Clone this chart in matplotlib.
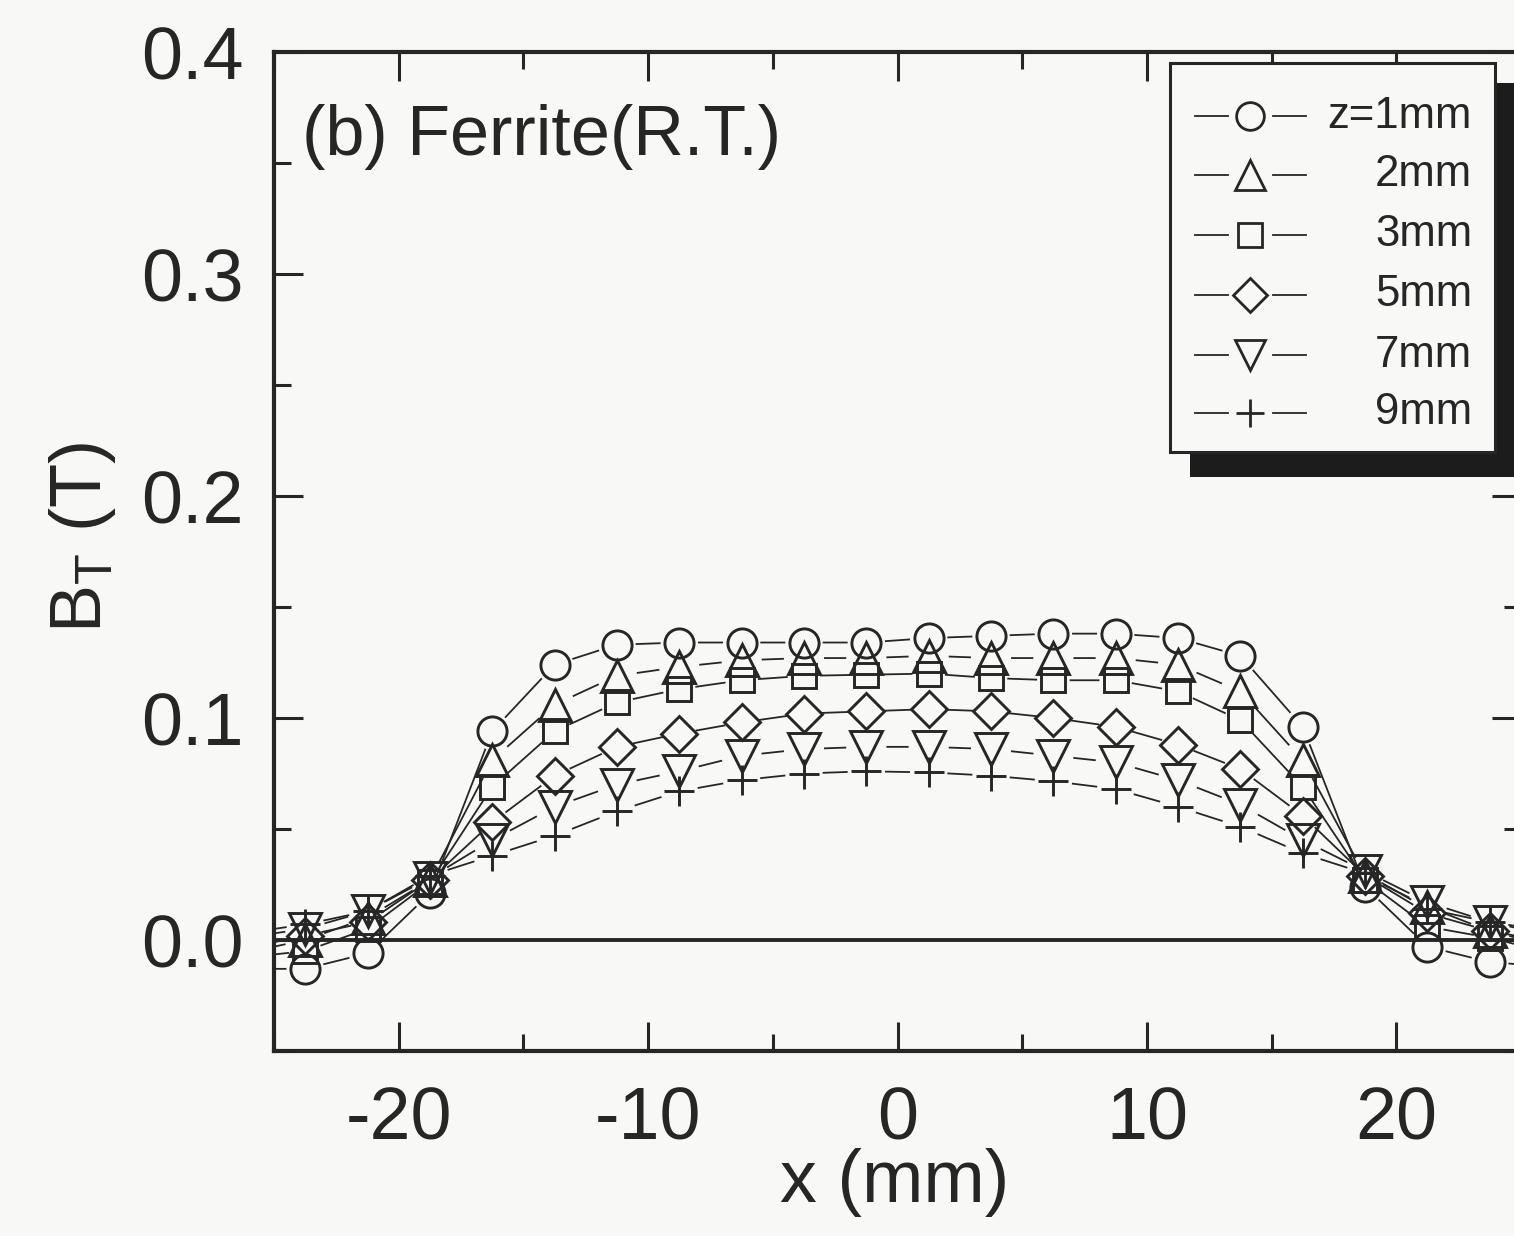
import numpy as np
import matplotlib
matplotlib.use('Agg')
import matplotlib.pyplot as plt
from matplotlib.patches import Rectangle
from matplotlib.lines import Line2D
from matplotlib.ticker import MultipleLocator

plt.rcParams['font.family'] = ['Liberation Sans', 'DejaVu Sans']
plt.rcParams['mathtext.fontset'] = 'custom'
plt.rcParams['mathtext.rm'] = 'Liberation Sans'
plt.rcParams['axes.unicode_minus'] = False

# transverse field B_T across the ferrite sample, one list per gap z
# (first/last points sit just outside the frame, only their lines show)
x_mm = [-26.25, -23.75, -21.25, -18.75, -16.25, -13.75, -11.25, -8.75, -6.25, -3.75,
        -1.25, 1.25, 3.75, 6.25, 8.75, 11.25, 13.75, 16.25, 18.75, 21.25,
        23.75, 26.25]
bt_z1 = [-0.013, -0.013, -0.006, 0.021, 0.094, 0.124, 0.133, 0.134, 0.134, 0.134,
         0.134, 0.136, 0.137, 0.138, 0.138, 0.136, 0.128, 0.096, 0.024, -0.003,
         -0.010, -0.012]
bt_z2 = [-0.006, 0.000, 0.010, 0.027, 0.081, 0.106, 0.119, 0.123, 0.126, 0.127,
         0.127, 0.128, 0.127, 0.127, 0.127, 0.124, 0.112, 0.081, 0.029, 0.015,
         0.004, -0.003]
bt_z3 = [-0.008, -0.005, 0.005, 0.026, 0.069, 0.094, 0.107, 0.113, 0.117, 0.119,
         0.1195, 0.120, 0.118, 0.117, 0.117, 0.112, 0.099, 0.069, 0.027, 0.006,
         0.001, -0.006]
bt_z5 = [-0.004, 0.002, 0.008, 0.027, 0.053, 0.074, 0.087, 0.093, 0.098, 0.102,
         0.103, 0.104, 0.103, 0.100, 0.096, 0.088, 0.077, 0.056, 0.029, 0.012,
         0.004, -0.001]
bt_z7 = [0.001, 0.005, 0.013, 0.028, 0.045, 0.060, 0.070, 0.076, 0.083, 0.086,
         0.087, 0.087, 0.086, 0.083, 0.080, 0.072, 0.061, 0.045, 0.031, 0.017,
         0.008, 0.002]
bt_z9 = [0.003, 0.007, 0.013, 0.029, 0.038, 0.047, 0.058, 0.067, 0.072, 0.075,
         0.076, 0.0755, 0.074, 0.0715, 0.068, 0.060, 0.051, 0.039, 0.030, 0.014,
         0.008, 0.004]
series = [bt_z1, bt_z2, bt_z3, bt_z5, bt_z7, bt_z9]
labels = ['z=1mm', '2mm', '3mm', '5mm', '7mm', '9mm']
markers = ['o', '^', 's', 'D', 'v', '+']
msizes = [21, 23, 17.5, 18, 23, 21]

W, H, DPI = 1514, 1236, 100
ink = '#262626'
bg = '#f8f8f7'

fig = plt.figure(figsize=(W / DPI, H / DPI), dpi=DPI, facecolor=bg)
ax = fig.add_axes([274 / W, 1 - 1051 / H, 1247 / W, 999 / H], facecolor=bg)
ax.set_xlim(-25, 25)
ax.set_ylim(-0.05, 0.4)


def gapped(xs, ys, gap):
    # Origin style: line pieces stop short of each symbol
    pts = ax.transData.transform(np.column_stack([xs, ys]))
    inv = ax.transData.inverted()
    sx, sy = [], []
    for p0, p1 in zip(pts[:-1], pts[1:]):
        d = p1 - p0
        L = np.hypot(*d)
        if L <= 2 * gap:
            continue
        u = d / L
        a, b = inv.transform([p0 + u * gap, p1 - u * gap])
        sx += [a[0], b[0], np.nan]
        sy += [a[1], b[1], np.nan]
    return sx, sy


ax.axhline(0, color=ink, lw=2.8, zorder=1)
for ys, mk, ms in zip(series, markers, msizes):
    gap = ms * DPI / 72 / 2 + 5
    sx, sy = gapped(x_mm, ys, gap)
    ax.plot(sx, sy, color=ink, lw=1.3, zorder=2)
    ax.plot(x_mm, ys, ls='none', marker=mk, ms=ms, mfc='none', mec=ink,
            mew=2.1, zorder=3)

for s in ax.spines.values():
    s.set_linewidth(3)
    s.set_color(ink)

ax.set_xticks([-20, -10, 0, 10, 20])
ax.xaxis.set_minor_locator(MultipleLocator(5))
ax.set_yticks([0.0, 0.1, 0.2, 0.3, 0.4])
ax.set_yticklabels(['0.0', '0.1', '0.2', '0.3', '0.4'])
ax.yaxis.set_minor_locator(MultipleLocator(0.05))
ax.tick_params(which='both', direction='in', top=True, right=True,
               width=2.2, color=ink, labelcolor=ink)
ax.tick_params(which='major', length=21, labelsize=53)
ax.tick_params(which='minor', length=12)
ax.tick_params(axis='x', pad=25)
ax.tick_params(axis='y', pad=22)

ax.set_xlabel('x (mm)', fontsize=53, color=ink)
ax.xaxis.set_label_coords(0.498, -0.097)
ax.xaxis.label.set_va('top')
ax.set_ylabel(r'$\mathrm{B}_\mathrm{T}$ (T)', fontsize=52, color=ink)
ax.yaxis.set_label_coords(-0.125, 0.514)

ax.text(0.0225, 0.897, '(b) Ferrite(R.T.)', transform=ax.transAxes,
        fontsize=50.5, va='baseline', color=ink)

# legend box with the heavy drop shadow, drawn in figure pixels
fx = lambda p: p / W
fy = lambda p: 1 - p / H
tf = fig.transFigure
fig.add_artist(Rectangle((fx(1190), fy(477)), 340 / W, 394 / H, transform=tf,
                         facecolor='#1c1c1c', edgecolor='none', zorder=5))
fig.add_artist(Rectangle((fx(1170), fy(452)), 325 / W, 389 / H, transform=tf,
                         facecolor=bg, edgecolor=ink, lw=2.2, zorder=6))
rows = [116, 175, 235, 295, 355, 413]
for row, mk, ms, lab in zip(rows, markers, msizes, labels):
    for a, b in [(1195, 1228), (1273, 1306)]:
        fig.add_artist(Line2D([fx(a), fx(b)], [fy(row)] * 2, transform=tf,
                              color=ink, lw=1.3, zorder=7))
    fig.add_artist(Line2D([fx(1250)], [fy(row)], transform=tf, ls='none',
                          marker=mk, ms=ms * 0.95, mfc='none', mec=ink,
                          mew=2.0, zorder=7))
    fig.text(fx(1472), fy(row), lab, ha='right', va='center', fontsize=31.5,
             color=ink, zorder=7)

fig.savefig('out.png', dpi=DPI, facecolor=bg)
